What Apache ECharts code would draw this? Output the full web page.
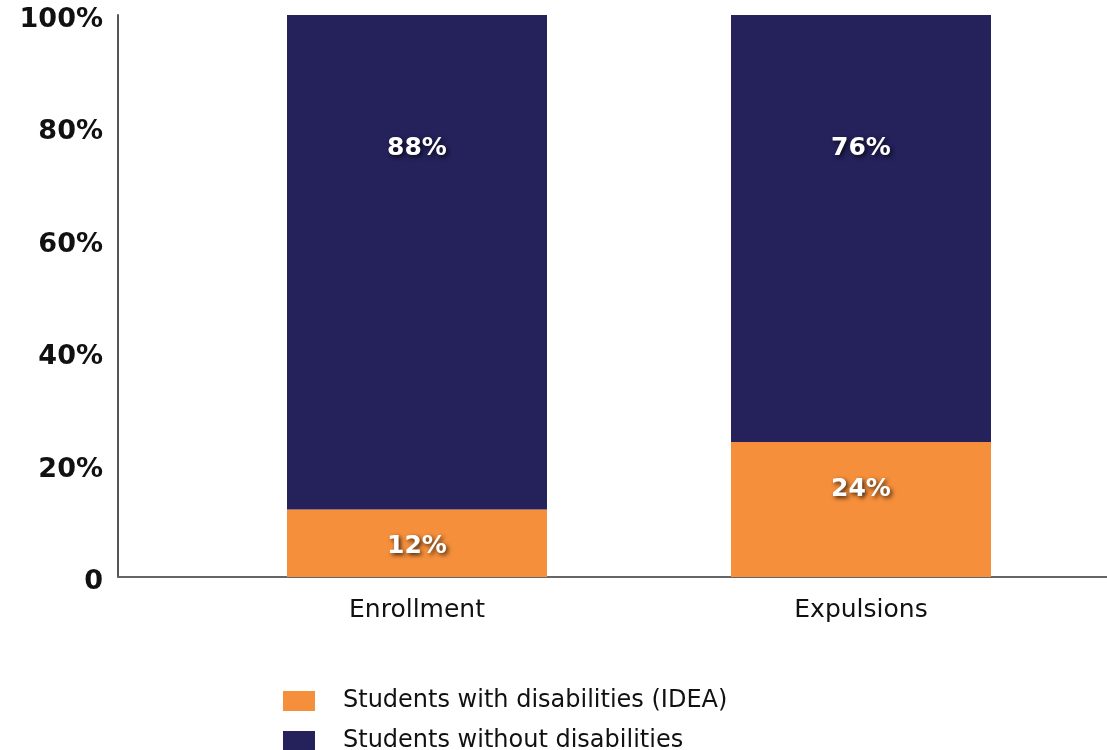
<!DOCTYPE html>
<html>
<head>
<meta charset="utf-8">
<style>
  html, body { margin: 0; padding: 0; background: #fff; }
  #chart { width: 1107px; height: 750px; }
</style>
<script src="https://cdn.jsdelivr.net/npm/echarts@6/dist/echarts.min.js"></script>
</head>
<body>
<div id="chart"></div>
<script>
const categories = ['Enrollment', 'Expulsions'];
const withDisabilities = [12, 24];
const withoutDisabilities = [88, 76];
const seriesNames = ['Students with disabilities (IDEA)', 'Students without disabilities'];
const yTicks = [0, 20, 40, 60, 80, 100];

const ORANGE = '#f58f3b';
const NAVY = '#24215b';

const chart = echarts.init(document.getElementById('chart'));

// white bold labels with a soft dark shadow, like the original
const labelStyle = {
    show: true,
    color: '#fff',
    fontFamily: 'DejaVu Sans',
    fontWeight: 'bold',
    fontSize: 25,
    textShadowColor: 'rgba(0,0,0,0.75)',
    textShadowBlur: 4,
    textShadowOffsetX: 2,
    textShadowOffsetY: 2,
    formatter: p => p.value + '%'
};
// where the orange labels sit inside each bar
const orangeLabelGap = [24, 35];

// one legend block per series so they stack like the original
const legendBase = {
    left: 278,
    itemWidth: 32,
    itemHeight: 20,
    icon: 'rect',
    textStyle: {
        color: '#111',
        fontFamily: 'DejaVu Sans',
        fontSize: 24,
        padding: [0, 0, 0, 23]
    }
};

const option = {
    animation: false,
    grid: [
        { left: 195, right: 24, top: 15, bottom: 173 },
        { left: 118, right: 0, top: 15, bottom: 173 }
    ],
    xAxis: [
        {
            type: 'category',
            gridIndex: 0,
            data: categories,
            axisLine: { show: false },
            axisTick: { show: false },
            axisLabel: {
                color: '#111',
                fontFamily: 'DejaVu Sans',
                fontSize: 25,
                margin: 21
            }
        },
        {
            // only draws the long baseline across the whole plot
            type: 'category',
            gridIndex: 1,
            data: [''],
            axisLine: { show: true, lineStyle: { color: '#666', width: 2 } },
            axisTick: { show: false },
            axisLabel: { show: false }
        }
    ],
    yAxis: [
        {
            type: 'value',
            gridIndex: 0,
            min: 0,
            max: 100,
            interval: 20,
            offset: 77,
            axisLine: { show: true, lineStyle: { color: '#555', width: 2 } },
            axisTick: { show: false },
            splitLine: { show: false },
            axisLabel: {
                color: '#111',
                fontFamily: 'DejaVu Sans',
                fontWeight: 'bold',
                fontSize: 27,
                margin: 15,
                verticalAlign: 'top',
                lineHeight: 10,
                formatter: v => (yTicks.includes(v) && v !== 0) ? v + '%' : String(v)
            }
        },
        {
            type: 'value',
            gridIndex: 1,
            show: false
        }
    ],
    legend: [
        Object.assign({}, legendBase, { top: 684, data: [seriesNames[0]] }),
        Object.assign({}, legendBase, { top: 724, data: [seriesNames[1]] })
    ],
    series: [
        {
            name: seriesNames[0],
            type: 'bar',
            stack: 'total',
            barWidth: 260,
            itemStyle: { color: ORANGE },
            data: withDisabilities.map((v, i) => ({
                value: v,
                label: { distance: orangeLabelGap[i] }
            })),
            label: Object.assign({}, labelStyle, { position: 'insideTop' })
        },
        {
            name: seriesNames[1],
            type: 'bar',
            stack: 'total',
            barWidth: 260,
            itemStyle: { color: NAVY },
            data: withoutDisabilities,
            label: Object.assign({}, labelStyle, { position: 'insideTop', distance: 121 })
        }
    ]
};

chart.setOption(option);
</script>
</body>
</html>
